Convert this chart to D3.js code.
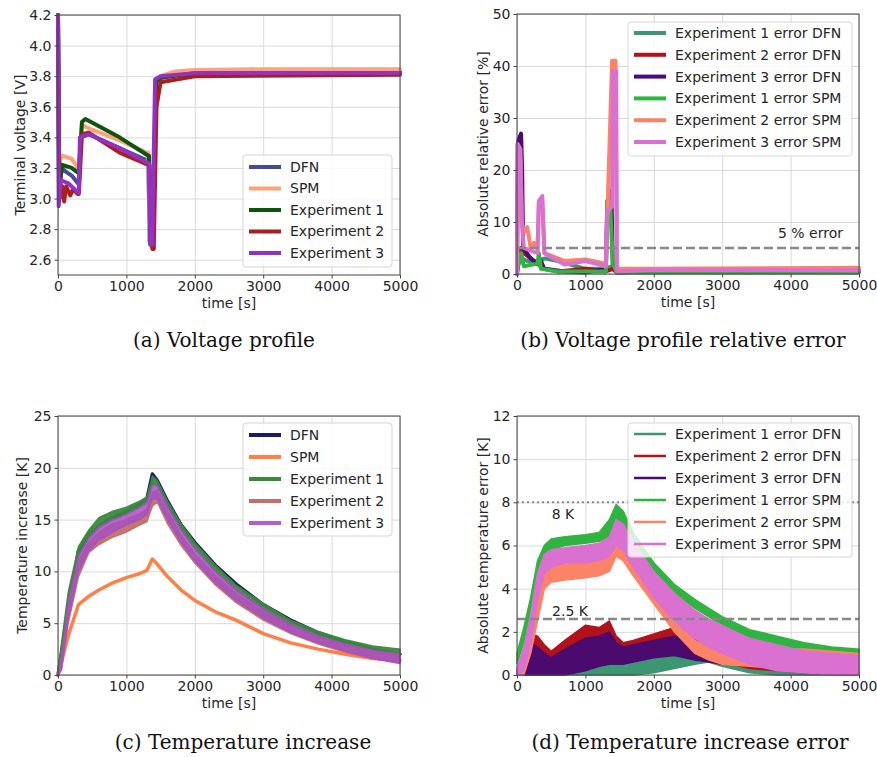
<!DOCTYPE html>
<html lang="en">
<head>
<meta charset="UTF-8">
<title>Battery model comparison</title>
<script src="https://d3js.org/d3.v7.min.js"></script>
<style>
    body { margin: 0; background: #fff; }
    svg { display: block; }
    text { font-family: "DejaVu Sans", sans-serif; fill: #262626; }
    .caption { font-family: "DejaVu Serif", serif; font-size: 20px; fill: #111; }
    .grid line { stroke: #d9d9d9; stroke-width: 1; }
    .grid .domain { display: none; }
</style>
</head>
<body>
<svg id="fig" width="877" height="757"></svg>
<script>
    // ---------- (a) terminal voltage [V] ----------
    const dfnVoltT = [0, 15, 30, 60, 100, 200, 290, 305, 330, 450, 800, 1300, 1320, 1340, 1380, 1400, 1430, 1500, 1700, 2000, 3000, 5000];
    const dfnVoltV = [4.2, 3.0, 3.12, 3.2, 3.18, 3.15, 3.1, 3.1, 3.4, 3.42, 3.35, 3.25, 3.25, 2.72, 2.68, 3.0, 3.76, 3.79, 3.81, 3.82, 3.825, 3.825];
    const spmVoltT = [0, 15, 30, 60, 200, 290, 305, 350, 500, 900, 1300, 1320, 1340, 1380, 1400, 1430, 1500, 1700, 2000, 3000, 5000];
    const spmVoltV = [4.1, 3.05, 3.25, 3.28, 3.26, 3.2, 3.2, 3.48, 3.45, 3.38, 3.3, 3.3, 2.72, 2.7, 3.0, 3.77, 3.8, 3.83, 3.84, 3.845, 3.845];
    const exp1VoltT = [0, 20, 40, 60, 200, 290, 305, 350, 400, 900, 1320, 1330, 1350, 1390, 1410, 1440, 1500, 2000, 5000];
    const exp1VoltV = [4.2, 3.0, 3.15, 3.22, 3.2, 3.17, 3.17, 3.5, 3.52, 3.4, 3.28, 3.28, 2.7, 2.7, 3.2, 3.77, 3.79, 3.82, 3.82];
    const exp2VoltT = [0, 20, 60, 90, 120, 180, 220, 290, 305, 350, 450, 900, 1320, 1340, 1380, 1400, 1440, 1500, 2000, 5000];
    const exp2VoltV = [4.2, 3.0, 3.08, 2.98, 3.08, 3.02, 3.06, 3.03, 3.03, 3.42, 3.43, 3.3, 3.22, 3.22, 2.67, 2.67, 3.6, 3.76, 3.8, 3.81];
    const exp3VoltT = [0, 10, 40, 150, 290, 305, 320, 450, 900, 1320, 1330, 1350, 1380, 1400, 1420, 1500, 2000, 5000];
    const exp3VoltV = [4.2, 2.95, 3.12, 3.1, 3.04, 3.04, 3.4, 3.42, 3.33, 3.23, 3.23, 2.7, 2.7, 3.3, 3.78, 3.8, 3.82, 3.82];

    // ---------- (b) absolute relative voltage error [%] ----------
    const err1DfnT = [0, 20, 60, 150, 300, 400, 600, 1000, 1300, 1380, 1420, 1460, 2000, 5000];
    const err1DfnV = [0, 2, 3, 2.5, 2, 3, 2.5, 1, 1, 1.5, 1.0, 0.3, 0.5, 0.5];
    const err2DfnT = [0, 30, 60, 100, 200, 300, 400, 600, 1000, 1300, 1400, 1460, 2000, 5000];
    const err2DfnV = [0, 4, 5, 4, 3, 2, 1, 0.5, 1, 0.5, 1, 0.3, 0.6, 0.6];
    const err3DfnT = [0, 10, 30, 60, 75, 90, 200, 300, 330, 400, 700, 1000, 1300, 1320, 1380, 1400, 1460, 2000, 5000];
    const err3DfnV = [0, 25, 26, 27, 20, 5, 3, 2, 3, 1, 0.5, 0.3, 1, 14, 16, 2, 0.5, 0.5, 0.5];
    const err1SpmT = [0, 30, 60, 100, 300, 320, 350, 600, 1000, 1300, 1320, 1360, 1400, 1460, 2000, 5000];
    const err1SpmV = [1, 2, 4, 1.5, 2, 4, 1, 0.5, 0.5, 0.5, 14, 14, 2, 0.3, 0.3, 0.3];
    const err2SpmT = [0, 20, 50, 70, 100, 150, 200, 250, 300, 320, 370, 400, 700, 1000, 1300, 1390, 1440, 1460, 2000, 5000];
    const err2SpmV = [0, 22, 22, 10, 8, 9, 5, 6, 5, 14, 14, 4, 2.5, 2.8, 2, 41, 41, 1, 1, 1.2];
    const err3SpmT = [0, 10, 50, 70, 100, 300, 320, 370, 400, 700, 1000, 1300, 1320, 1390, 1400, 1450, 1460, 2000, 5000];
    const err3SpmV = [0, 25, 24, 10, 5, 4, 14, 15, 4, 1.8, 2.5, 1.5, 12, 13, 39, 39, 0.5, 0.8, 0.7];

    // ---------- (c) temperature increase [K] ----------
    const tempT = [0, 50, 150, 300, 450, 600, 800, 1000, 1200, 1300, 1380, 1450, 1600, 1800, 2000, 2300, 2600, 3000, 3400, 3800, 4200, 4600, 5000];
    const dfnTemp = [0, 2, 6.5, 12, 13.5, 14.4, 15.2, 15.8, 16.5, 17, 19.4, 18.8, 16.8, 14.5, 12.8, 10.6, 8.8, 6.8, 5.3, 4.1, 3.2, 2.5, 2.0];
    const spmTemp = [0, 1.2, 3.8, 6.8, 7.6, 8.2, 8.9, 9.4, 9.8, 10.1, 11.2, 10.7, 9.5, 8.2, 7.2, 6.1, 5.3, 4.0, 3.1, 2.5, 2.0, 1.6, 1.4];
    const exp1TempLo = [0, 2, 7, 11.5, 13.2, 14.2, 15, 15.5, 16.2, 16.6, 18.4, 18.3, 16.2, 14, 12.2, 10, 8.2, 6.3, 4.8, 3.7, 2.9, 2.3, 1.8];
    const exp1TempHi = [0.5, 3, 8, 12.4, 14, 15.2, 15.8, 16.2, 16.8, 17.2, 19.2, 18.8, 16.8, 14.6, 12.8, 10.6, 8.7, 6.9, 5.3, 4.2, 3.4, 2.8, 2.5];
    const exp2TempLo = [0, 0.5, 5, 9.5, 11.8, 12.6, 13.3, 13.8, 14.5, 14.8, 16.3, 16.7, 14.6, 12.5, 10.8, 8.7, 7, 5.3, 4, 3, 2.2, 1.6, 1.2];
    const exp2TempHi = [0, 1.5, 6.5, 11, 12.8, 13.8, 14.6, 15, 15.6, 16, 17.6, 17.8, 15.8, 13.5, 11.7, 9.6, 7.9, 6.1, 4.7, 3.6, 2.9, 2.3, 2.0];
    const exp3TempLo = [0, 0.5, 5.5, 10, 12, 13, 13.8, 14.5, 15, 15.5, 17, 17, 15, 12.8, 11, 8.9, 7.2, 5.5, 4.1, 3.1, 2.3, 1.6, 1.1];
    const exp3TempHi = [0, 1.5, 7, 11.5, 13.2, 14.3, 15, 15.5, 16.2, 16.7, 18.3, 18.3, 16.3, 14, 12.2, 10, 8.3, 6.4, 4.9, 3.8, 3, 2.4, 2.0];

    // ---------- (d) absolute temperature error [K] ----------
    const errT = [0, 100, 200, 300, 400, 500, 700, 1000, 1200, 1350, 1450, 1550, 1700, 2000, 2300, 2600, 2800, 3000, 3400, 3800, 4200, 4600, 5000];
    const tErr1DfnLo = [0, 0, 0, 0, 0, 0, 0, 0, 0, 0, 0, 0, 0, 0.1, 0.3, 0.5, 0.6, 0.4, 0.1, 0, 0, 0, 0];
    const tErr1DfnHi = [0.2, 0.3, 0.4, 0.2, 0.1, 0.1, 0.2, 0.5, 0.6, 0.9, 0.7, 0.6, 0.6, 0.8, 1.0, 1.1, 1.1, 0.8, 0.5, 0.3, 0.2, 0.1, 0.1];
    const tErr2DfnLo = [0, 0, 0.5, 1.0, 0.8, 0.7, 0.8, 1.2, 1.4, 1.5, 1.2, 1.1, 1.1, 1.3, 1.5, 1.2, 0.9, 0.6, 0.3, 0.2, 0.1, 0, 0];
    const tErr2DfnHi = [0, 0.3, 1.9, 1.8, 1.4, 1.1, 1.6, 2.3, 2.2, 2.5, 1.8, 1.5, 1.6, 1.9, 2.2, 1.8, 1.3, 0.9, 0.6, 0.4, 0.3, 0.2, 0.2];
    const tErr3DfnLo = [0, 0, 0, 0, 0, 0, 0, 0.2, 0.4, 0.5, 0.5, 0.5, 0.6, 0.8, 0.9, 0.7, 0.6, 0.5, 0.8, 0.8, 0.8, 0.8, 0.9];
    const tErr3DfnHi = [0, 0.2, 1.5, 1.3, 1.0, 0.8, 1.2, 1.7, 1.8, 2.0, 1.5, 1.3, 1.4, 1.6, 1.8, 1.6, 1.1, 0.9, 1.3, 1.4, 1.3, 1.2, 1.1];
    const tErr1SpmLo = [0.5, 1.5, 3.0, 4.5, 5.5, 5.8, 6.0, 6.1, 6.2, 6.4, 7.0, 6.9, 6.0, 4.7, 3.8, 3.1, 2.7, 2.3, 1.7, 1.4, 1.1, 0.9, 0.9];
    const tErr1SpmHi = [1.0, 2.2, 3.6, 5.3, 6.0, 6.3, 6.4, 6.5, 6.6, 7.2, 7.9, 7.6, 6.6, 5.2, 4.2, 3.5, 3.1, 2.7, 2.1, 1.8, 1.5, 1.3, 1.2];
    const tErr2SpmLo = [0, 0, 1.0, 2.5, 4.0, 4.3, 4.4, 4.5, 4.6, 4.8, 5.5, 5.3, 4.6, 3.3, 2.0, 1.0, 0.7, 0.5, 0.4, 0.3, 0.3, 0.3, 0.3];
    const tErr2SpmHi = [0.3, 0.8, 2.0, 3.8, 4.8, 5.0, 5.2, 5.3, 5.4, 5.8, 6.3, 5.9, 5.2, 3.8, 2.6, 1.6, 1.3, 1.1, 1.2, 1.2, 1.2, 1.1, 1.0];
    const tErr3SpmLo = [0, 0.2, 1.5, 3.5, 4.7, 5.0, 5.2, 5.2, 5.3, 5.5, 6.0, 5.8, 5.0, 3.6, 2.5, 1.7, 1.3, 1.0, 0.5, 0.2, 0.1, 0, 0];
    const tErr3SpmHi = [0.3, 1.3, 2.8, 4.7, 5.6, 5.8, 5.9, 6.0, 6.1, 6.4, 7.2, 7.0, 6.2, 4.8, 3.8, 3.0, 2.6, 2.3, 1.7, 1.4, 1.1, 1.0, 0.9];

    const timeTicks = [0, 1000, 2000, 3000, 4000, 5000];

    const svg = d3.select("#fig");

    function zip(ts, vs) { return ts.map((t, i) => [t, vs[i]]); }

    // one matplotlib-like axes box
    function makePanel(opt) {
        const w = opt.right - opt.left, h = opt.bottom - opt.top;
        const x = d3.scaleLinear().domain([0, 5000]).range([0, w]);
        const y = d3.scaleLinear().domain(opt.yDomain).range([h, 0]);
        const g = svg.append("g").attr("transform", `translate(${opt.left},${opt.top})`);

        g.append("g").attr("class", "grid").attr("transform", `translate(0,${h})`)
            .call(d3.axisBottom(x).tickValues(timeTicks).tickSize(-h).tickFormat(""));
        g.append("g").attr("class", "grid")
            .call(d3.axisLeft(y).tickValues(opt.yTicks).tickSize(-w).tickFormat(""));

        const plot = g.append("g");

        const xAxis = g.append("g").attr("transform", `translate(0,${h})`)
            .call(d3.axisBottom(x).tickValues(timeTicks).tickSize(3.5).tickPadding(3).tickFormat(d3.format("d")));
        const yAxis = g.append("g")
            .call(d3.axisLeft(y).tickValues(opt.yTicks).tickSize(3.5).tickPadding(3).tickFormat(opt.yFormat));
        [xAxis, yAxis].forEach(a => {
            a.select(".domain").remove();
            a.selectAll("line").attr("stroke", "#444");
            a.selectAll("text").style("font-size", "14px").attr("fill", "#262626");
        });

        g.append("rect").attr("width", w).attr("height", h)
            .attr("fill", "none").attr("stroke", "#444").attr("stroke-width", 1);

        g.append("text").attr("x", w / 2).attr("y", h + 33)
            .attr("text-anchor", "middle").style("font-size", "14px").text("time [s]");
        g.append("text").attr("transform", `translate(${opt.yLabelX - opt.left},${h / 2}) rotate(-90)`)
            .attr("text-anchor", "middle").attr("dy", "0.35em").style("font-size", "14px").text(opt.yLabel);

        return { g, plot, x, y, w, h };
    }

    function drawLine(p, pts, color, width) {
        p.plot.append("path").datum(pts)
            .attr("d", d3.line().x(d => p.x(d[0])).y(d => p.y(d[1])))
            .attr("fill", "none").attr("stroke", color).attr("stroke-width", width)
            .attr("stroke-linejoin", "round").attr("stroke-linecap", "round");
    }

    function drawBand(p, ts, lo, hi, color, opacity) {
        const pts = ts.map((t, i) => [t, lo[i], hi[i]]);
        p.plot.append("path").datum(pts)
            .attr("d", d3.area().x(d => p.x(d[0])).y0(d => p.y(d[1])).y1(d => p.y(d[2])))
            .attr("fill", color).attr("fill-opacity", opacity)
            .attr("stroke", color).attr("stroke-width", 1.5).attr("stroke-opacity", opacity);
    }

    function drawLegend(p, items, box, lw) {
        const lg = p.g.append("g").attr("transform", `translate(${box.x},${box.y})`);
        lg.append("rect").attr("width", box.w).attr("height", box.h).attr("rx", 3)
            .attr("fill", "#fff").attr("fill-opacity", 0.8).attr("stroke", "#d5d5d5");
        items.forEach((it, i) => {
            const yy = box.first + i * box.step;
            lg.append("line").attr("x1", 6).attr("x2", 38).attr("y1", yy).attr("y2", yy)
                .attr("stroke", it.color).attr("stroke-width", lw);
            lg.append("text").attr("x", 47).attr("y", yy).attr("dy", "0.35em")
                .style("font-size", "14px").text(it.name);
        });
    }

    // ----- panel (a)
    const pa = makePanel({ left: 58, right: 400, top: 15, bottom: 275, yDomain: [2.5, 4.2],
        yTicks: [2.6, 2.8, 3.0, 3.2, 3.4, 3.6, 3.8, 4.0, 4.2], yFormat: d3.format(".1f"),
        yLabel: "Terminal voltage [V]", yLabelX: 20 });
    const voltSeries = [
        { name: "DFN", color: "#444c96", t: dfnVoltT, v: dfnVoltV },
        { name: "SPM", color: "#ffa27a", t: spmVoltT, v: spmVoltV },
        { name: "Experiment 1", color: "#0d550d", t: exp1VoltT, v: exp1VoltV },
        { name: "Experiment 2", color: "#a8201e", t: exp2VoltT, v: exp2VoltV },
        { name: "Experiment 3", color: "#9430c4", t: exp3VoltT, v: exp3VoltV }
    ];
    voltSeries.forEach(s => drawLine(pa, zip(s.t, s.v), s.color, 4));
    drawLegend(pa, voltSeries, { x: 243 - 58, y: 155 - 15, w: 149, h: 112, first: 12, step: 21.5 }, 4);

    // ----- panel (b)
    const pb = makePanel({ left: 517, right: 859, top: 14, bottom: 274, yDomain: [0, 50],
        yTicks: [0, 10, 20, 30, 40, 50], yFormat: d3.format("d"),
        yLabel: "Absolute relative error [%]", yLabelX: 483 });
    const voltErrSeries = [
        { name: "Experiment 1 error DFN", color: "#3c9672", t: err1DfnT, v: err1DfnV },
        { name: "Experiment 2 error DFN", color: "#b3121b", t: err2DfnT, v: err2DfnV },
        { name: "Experiment 3 error DFN", color: "#4b0a78", t: err3DfnT, v: err3DfnV },
        { name: "Experiment 1 error SPM", color: "#2fb53f", t: err1SpmT, v: err1SpmV },
        { name: "Experiment 2 error SPM", color: "#fb8468", t: err2SpmT, v: err2SpmV },
        { name: "Experiment 3 error SPM", color: "#da70d0", t: err3SpmT, v: err3SpmV }
    ];
    voltErrSeries.forEach(s => drawLine(pb, zip(s.t, s.v), s.color, 4));
    pb.plot.append("line").attr("x1", 0).attr("x2", pb.w).attr("y1", pb.y(5)).attr("y2", pb.y(5))
        .attr("stroke", "#888").attr("stroke-width", 2.5).attr("stroke-dasharray", "9,4");
    pb.plot.append("text").attr("x", 843 - 517).attr("y", pb.y(5) - 10).attr("text-anchor", "end")
        .style("font-size", "14px").text("5 % error");
    drawLegend(pb, voltErrSeries, { x: 628 - 517, y: 22 - 14, w: 224, h: 134, first: 11, step: 21.8 }, 4);

    // ----- panel (c)
    const pc = makePanel({ left: 58, right: 400, top: 416, bottom: 675, yDomain: [0, 25],
        yTicks: [0, 5, 10, 15, 20, 25], yFormat: d3.format("d"),
        yLabel: "Temperature increase [K]", yLabelX: 22 });
    drawLine(pc, zip(tempT, dfnTemp), "#1a1c6a", 3.5);
    drawLine(pc, zip(tempT, spmTemp), "#ff7f45", 3.5);
    drawBand(pc, tempT, exp1TempLo, exp1TempHi, "#3a8a3c", 0.95);
    drawBand(pc, tempT, exp2TempLo, exp2TempHi, "#c0706a", 0.95);
    drawBand(pc, tempT, exp3TempLo, exp3TempHi, "#a650c0", 0.85);
    drawLegend(pc, [
        { name: "DFN", color: "#1a1c6a" },
        { name: "SPM", color: "#ff7f45" },
        { name: "Experiment 1", color: "#3a8a3c" },
        { name: "Experiment 2", color: "#c0706a" },
        { name: "Experiment 3", color: "#b060cc" }
    ], { x: 243 - 58, y: 423 - 416, w: 149, h: 113, first: 12, step: 22 }, 4);

    // ----- panel (d)
    const pd = makePanel({ left: 517, right: 859, top: 416, bottom: 675, yDomain: [0, 12],
        yTicks: [0, 2, 4, 6, 8, 10, 12], yFormat: d3.format("d"),
        yLabel: "Absolute temperature error [K]", yLabelX: 483 });
    const tempErrSeries = [
        { name: "Experiment 1 error DFN", color: "#3c9672", lo: tErr1DfnLo, hi: tErr1DfnHi },
        { name: "Experiment 2 error DFN", color: "#b3121b", lo: tErr2DfnLo, hi: tErr2DfnHi },
        { name: "Experiment 3 error DFN", color: "#4b0a6e", lo: tErr3DfnLo, hi: tErr3DfnHi },
        { name: "Experiment 1 error SPM", color: "#2fb53f", lo: tErr1SpmLo, hi: tErr1SpmHi },
        { name: "Experiment 2 error SPM", color: "#fb8468", lo: tErr2SpmLo, hi: tErr2SpmHi },
        { name: "Experiment 3 error SPM", color: "#da70d0", lo: tErr3SpmLo, hi: tErr3SpmHi }
    ];
    tempErrSeries.forEach(s => drawBand(pd, errT, s.lo, s.hi, s.color, 1));
    pd.plot.append("line").attr("x1", 0).attr("x2", pd.w).attr("y1", pd.y(8)).attr("y2", pd.y(8))
        .attr("stroke", "#888").attr("stroke-width", 2).attr("stroke-dasharray", "2,3");
    pd.plot.append("line").attr("x1", 0).attr("x2", pd.w).attr("y1", pd.y(2.6)).attr("y2", pd.y(2.6))
        .attr("stroke", "#888").attr("stroke-width", 2.5).attr("stroke-dasharray", "9,4");
    pd.plot.append("text").attr("x", 563 - 517).attr("y", pd.y(8) + 17).attr("text-anchor", "middle")
        .style("font-size", "14px").text("8 K");
    pd.plot.append("text").attr("x", 570 - 517).attr("y", pd.y(2.6) - 3).attr("text-anchor", "middle")
        .style("font-size", "14px").text("2.5 K");
    drawLegend(pd, tempErrSeries, { x: 628 - 517, y: 423 - 416, w: 224, h: 134, first: 11, step: 22 }, 2.5);

    // ----- captions
    const captions = [
        { x: 224, y: 347, text: "(a) Voltage profile" },
        { x: 683, y: 347, text: "(b) Voltage profile relative error" },
        { x: 243, y: 749, text: "(c) Temperature increase" },
        { x: 690, y: 749, text: "(d) Temperature increase error" }
    ];
    svg.selectAll(".caption").data(captions).join("text")
        .attr("class", "caption").attr("x", d => d.x).attr("y", d => d.y)
        .attr("text-anchor", "middle").text(d => d.text);
</script>
</body>
</html>
